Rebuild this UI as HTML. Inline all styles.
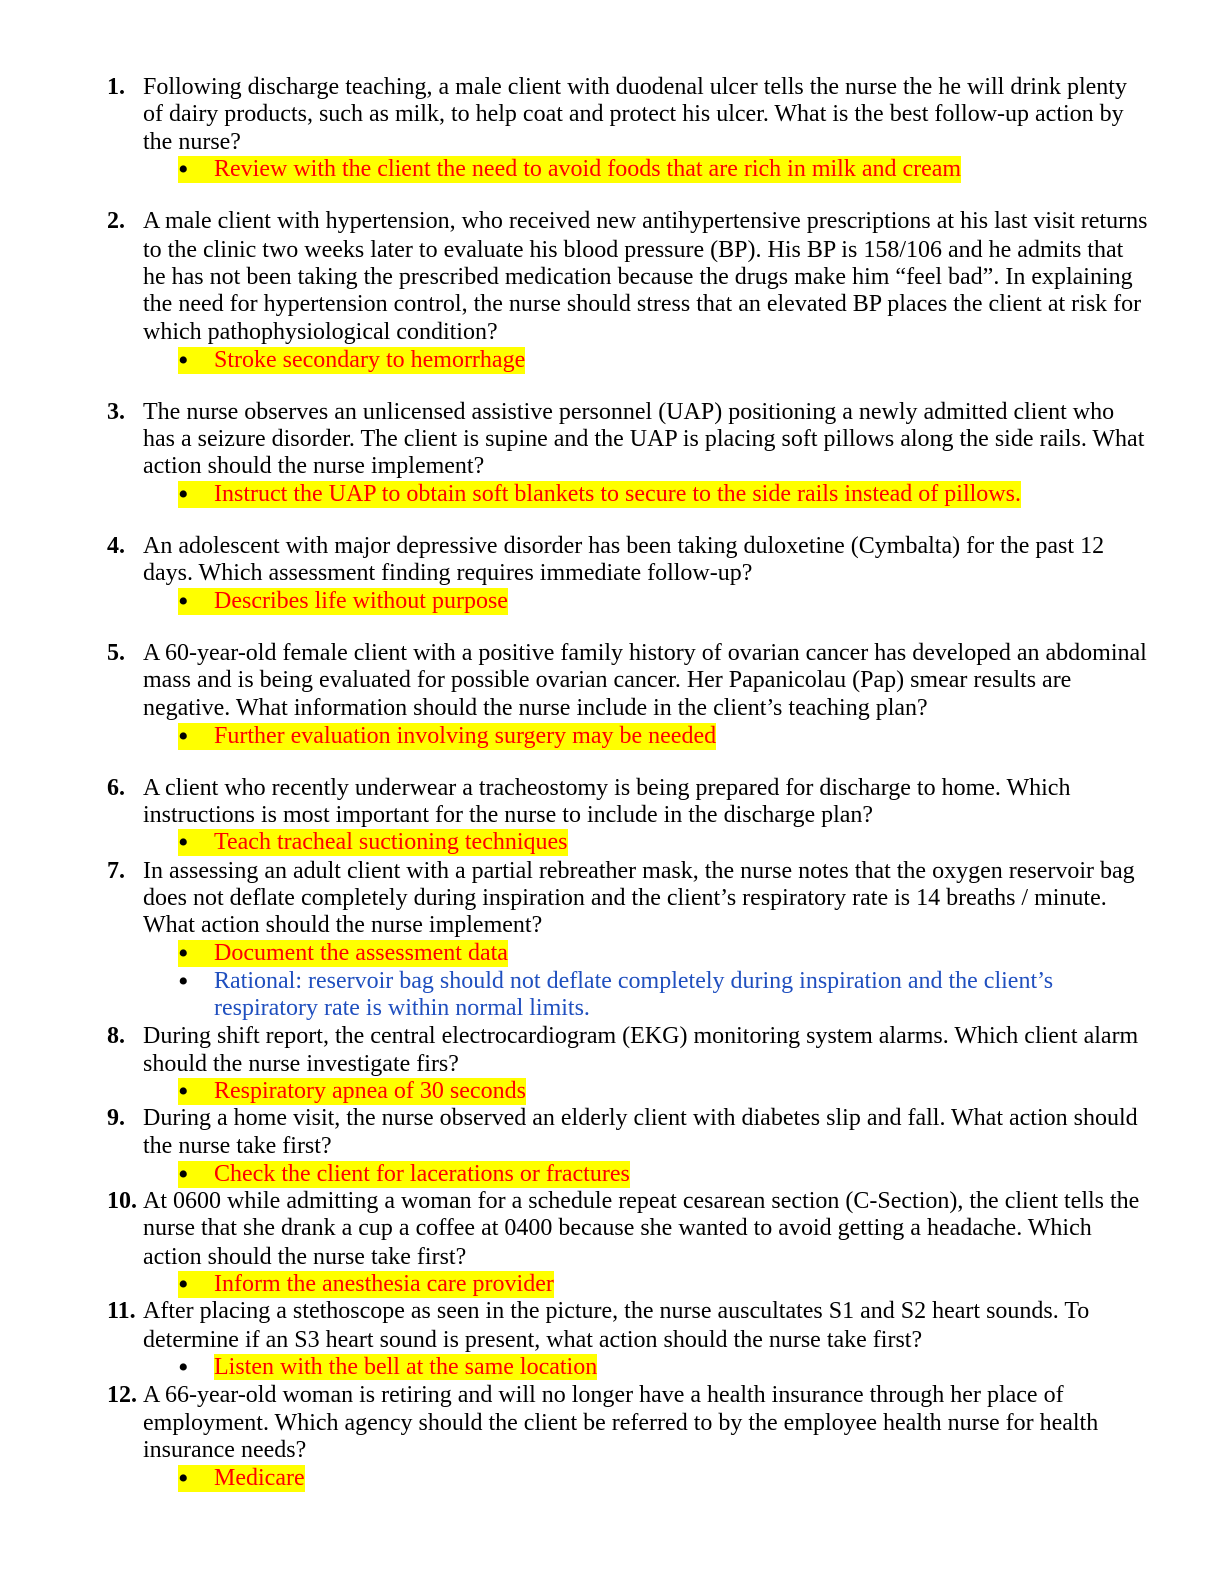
<!DOCTYPE html>
<html><head><meta charset="utf-8"><style>
body{margin:0;background:#fff;overflow:hidden;}
#p{position:relative;top:2px;width:1224px;height:1560px;font-family:"Liberation Serif",serif;font-size:24px;color:#000;}
.l{position:absolute;left:143px;white-space:nowrap;line-height:27px;height:27px;}
.n{position:absolute;left:107px;font-weight:bold;white-space:nowrap;line-height:27px;}
.b{position:absolute;left:178px;white-space:nowrap;line-height:27px;height:27px;color:#ff0000;}
.b.h{background:#ffff00;}
.b .d{display:inline-block;width:36px;color:#000;font-size:30px;line-height:27px;vertical-align:top;}
.b.blue{color:#1f4fbf;}
</style></head><body><div id="p">
<div class="n" style="top:72px">1.</div>
<div class="l" style="top:72px">Following discharge teaching, a male client with duodenal ulcer tells the nurse the he will drink plenty</div>
<div class="l" style="top:99px">of dairy products, such as milk, to help coat and protect his ulcer. What is the best follow-up action by</div>
<div class="l" style="top:127px">the nurse?</div>
<div class="b h" style="top:154px"><span class="d">•</span>Review with the client the need to avoid foods that are rich in milk and cream</div>

<div class="n" style="top:206px">2.</div>
<div class="l" style="top:206px">A male client with hypertension, who received new antihypertensive prescriptions at his last visit returns</div>
<div class="l" style="top:235px">to the clinic two weeks later to evaluate his blood pressure (BP). His BP is 158/106 and he admits that</div>
<div class="l" style="top:262px">he has not been taking the prescribed medication because the drugs make him “feel bad”. In explaining</div>
<div class="l" style="top:289px">the need for hypertension control, the nurse should stress that an elevated BP places the client at risk for</div>
<div class="l" style="top:317px">which pathophysiological condition?</div>
<div class="b h" style="top:345px"><span class="d">•</span>Stroke secondary to hemorrhage</div>

<div class="n" style="top:397px">3.</div>
<div class="l" style="top:397px">The nurse observes an unlicensed assistive personnel (UAP) positioning a newly admitted client who</div>
<div class="l" style="top:424px">has a seizure disorder. The client is supine and the UAP is placing soft pillows along the side rails. What</div>
<div class="l" style="top:451px">action should the nurse implement?</div>
<div class="b h" style="top:479px"><span class="d">•</span>Instruct the UAP to obtain soft blankets to secure to the side rails instead of pillows.</div>

<div class="n" style="top:531px">4.</div>
<div class="l" style="top:531px">An adolescent with major depressive disorder has been taking duloxetine (Cymbalta) for the past 12</div>
<div class="l" style="top:558px">days. Which assessment finding requires immediate follow-up?</div>
<div class="b h" style="top:586px"><span class="d">•</span>Describes life without purpose</div>

<div class="n" style="top:638px">5.</div>
<div class="l" style="top:638px">A 60-year-old female client with a positive family history of ovarian cancer has developed an abdominal</div>
<div class="l" style="top:665px">mass and is being evaluated for possible ovarian cancer. Her Papanicolau (Pap) smear results are</div>
<div class="l" style="top:693px">negative. What information should the nurse include in the client’s teaching plan?</div>
<div class="b h" style="top:721px"><span class="d">•</span>Further evaluation involving surgery may be needed</div>

<div class="n" style="top:773px">6.</div>
<div class="l" style="top:773px">A client who recently underwear a tracheostomy is being prepared for discharge to home. Which</div>
<div class="l" style="top:800px">instructions is most important for the nurse to include in the discharge plan?</div>
<div class="b h" style="top:827px"><span class="d">•</span>Teach tracheal suctioning techniques</div>

<div class="n" style="top:856px">7.</div>
<div class="l" style="top:856px">In assessing an adult client with a partial rebreather mask, the nurse notes that the oxygen reservoir bag</div>
<div class="l" style="top:883px">does not deflate completely during inspiration and the client’s respiratory rate is 14 breaths / minute.</div>
<div class="l" style="top:910px">What action should the nurse implement?</div>
<div class="b h" style="top:938px"><span class="d">•</span>Document the assessment data</div>
<div class="b blue" style="top:966px"><span class="d">•</span>Rational: reservoir bag should not deflate completely during inspiration and the client’s</div>
<div class="b blue" style="top:993px;left:214px">respiratory rate is within normal limits.</div>

<div class="n" style="top:1021px">8.</div>
<div class="l" style="top:1021px">During shift report, the central electrocardiogram (EKG) monitoring system alarms. Which client alarm</div>
<div class="l" style="top:1049px">should the nurse investigate firs?</div>
<div class="b h" style="top:1076px"><span class="d">•</span>Respiratory apnea of 30 seconds</div>

<div class="n" style="top:1103px">9.</div>
<div class="l" style="top:1103px">During a home visit, the nurse observed an elderly client with diabetes slip and fall. What action should</div>
<div class="l" style="top:1131px">the nurse take first?</div>
<div class="b h" style="top:1159px"><span class="d">•</span>Check the client for lacerations or fractures</div>

<div class="n" style="top:1186px">10.</div>
<div class="l" style="top:1186px">At 0600 while admitting a woman for a schedule repeat cesarean section (C-Section), the client tells the</div>
<div class="l" style="top:1213px">nurse that she drank a cup a coffee at 0400 because she wanted to avoid getting a headache. Which</div>
<div class="l" style="top:1242px">action should the nurse take first?</div>
<div class="b h" style="top:1269px"><span class="d">•</span>Inform the anesthesia care provider</div>

<div class="n" style="top:1296px">11.</div>
<div class="l" style="top:1296px">After placing a stethoscope as seen in the picture, the nurse auscultates S1 and S2 heart sounds. To</div>
<div class="l" style="top:1325px">determine if an S3 heart sound is present, what action should the nurse take first?</div>
<div class="b" style="top:1352px"><span class="d">•</span><span style="background:#ffff00">Listen with the bell at the same location</span></div>

<div class="n" style="top:1380px">12.</div>
<div class="l" style="top:1380px">A 66-year-old woman is retiring and will no longer have a health insurance through her place of</div>
<div class="l" style="top:1408px">employment. Which agency should the client be referred to by the employee health nurse for health</div>
<div class="l" style="top:1435px">insurance needs?</div>
<div class="b h" style="top:1463px"><span class="d">•</span>Medicare</div>
</div></body></html>
